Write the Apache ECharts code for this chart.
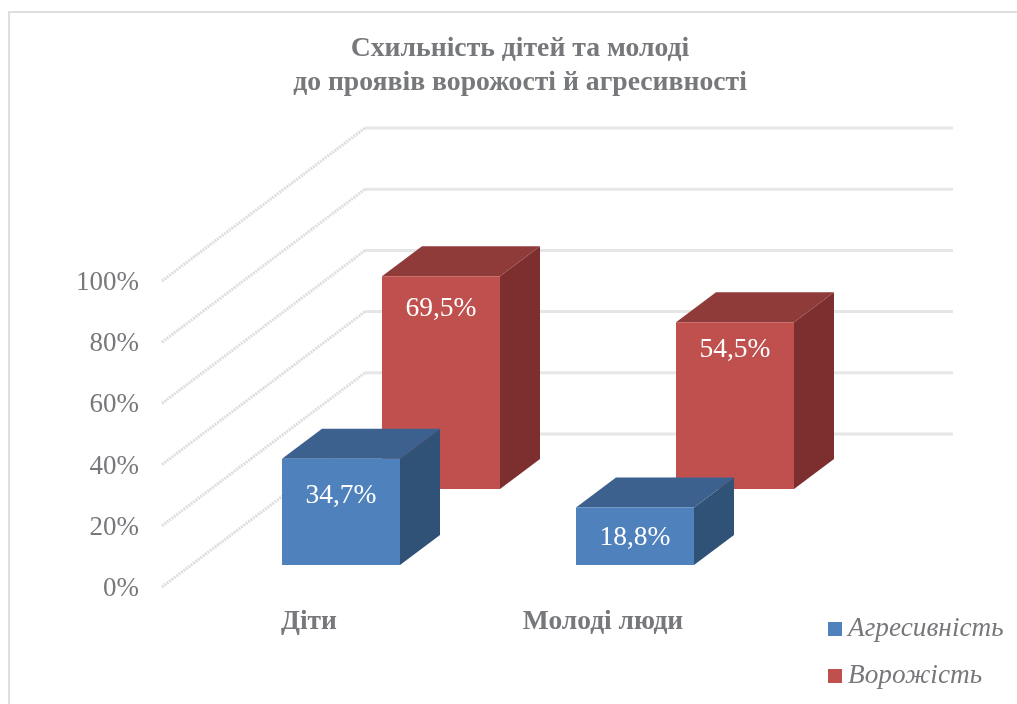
<!DOCTYPE html>
<html>
<head>
<meta charset="utf-8">
<style>
    html, body { margin: 0; padding: 0; background: #fff; }
    #chart { width: 1017px; height: 704px; }
</style>
<script src="https://cdn.jsdelivr.net/npm/echarts@6/dist/echarts.min.js"></script>
</head>
<body>
<div id="chart"></div>
<script>
var categories = ['Діти', 'Молоді люди'];
var aggression = [34.7, 18.8];
var hostility = [69.5, 54.5];
var yTicks = [0, 20, 40, 60, 80, 100];

var FONT = '"Liberation Serif", "Times New Roman", serif';
var TEXT_COLOR = '#77787b';
// oblique projection of the 3d box
var WALL_DX = 203;
var WALL_DY = 153;
var BAR_W = 118;
var BAR_DX = 40;
var BAR_DY = 30;

function bar3d (shift, drop, labelDrop, colors) {
    return function (params, api) {
        var cat = api.value(0);
        var base = api.coord([cat, 0]);
        var top = api.coord([cat, api.value(1)]);
        var left = base[0] + shift - BAR_W / 2;
        var right = left + BAR_W;
        var y0 = base[1] - drop;
        var y1 = top[1] - drop;
        return {
            type: 'group',
            children: [
                {
                    type: 'polygon',
                    shape: {points: [[right, y1], [right + BAR_DX, y1 - BAR_DY], [right + BAR_DX, y0 - BAR_DY], [right, y0]]},
                    style: {fill: colors.side}
                },
                {
                    type: 'polygon',
                    shape: {points: [[left, y1], [left + BAR_DX, y1 - BAR_DY], [right + BAR_DX, y1 - BAR_DY], [right, y1]]},
                    style: {fill: colors.top}
                },
                {
                    type: 'rect',
                    shape: {x: left, y: y1, width: BAR_W, height: y0 - y1},
                    style: {fill: colors.front}
                },
                {
                    type: 'text',
                    style: {
                        x: left + BAR_W / 2,
                        y: y1 + labelDrop[cat],
                        text: api.value(1).toFixed(1).replace('.', ',') + '%',
                        align: 'center',
                        verticalAlign: 'middle',
                        fill: '#fff',
                        font: '27.5px ' + FONT
                    }
                }
            ]
        };
    };
}

function wallLine (params, api) {
    var x = params.coordSys.x;
    var w = params.coordSys.width;
    var y = api.coord([0, api.value(0)])[1];
    return {
        type: 'group',
        children: [
            {
                type: 'line',
                shape: {x1: x, y1: y, x2: x + WALL_DX, y2: y - WALL_DY},
                style: {stroke: '#dedede', lineWidth: 3, lineDash: [2, 1]}
            },
            {
                type: 'line',
                shape: {x1: x + WALL_DX, y1: y - WALL_DY, x2: x + WALL_DX + w, y2: y - WALL_DY},
                style: {stroke: '#e6e6e6', lineWidth: 3}
            }
        ]
    };
}

function toRows (values) {
    return values.map(function (v, i) {
        return [i, v];
    });
}

var myChart = echarts.init(document.getElementById('chart'));
myChart.setOption({
    animation: false,
    backgroundColor: '#fff',
    title: {
        text: 'Схильність дітей та молоді\nдо проявів ворожості й агресивності',
        left: 515,
        top: 27,
        textAlign: 'center',
        textStyle: {
            color: TEXT_COLOR,
            fontFamily: FONT,
            fontSize: 27.7,
            fontWeight: 'bold',
            lineHeight: 34
        }
    },
    graphic: [
        {
            type: 'polyline',
            shape: {points: [[9, 720], [9, 12], [1030, 12]]},
            style: {stroke: '#dedede', lineWidth: 2, fill: null}
        }
    ],
    legend: {
        left: 828,
        top: 613,
        padding: 0,
        orient: 'vertical',
        icon: 'rect',
        itemWidth: 14,
        itemHeight: 14,
        itemGap: 15,
        data: ['Агресивність', 'Ворожість'],
        textStyle: {
            color: TEXT_COLOR,
            fontFamily: FONT,
            fontSize: 27.3,
            fontStyle: 'italic',
            lineHeight: 32,
            padding: [0, 0, 0, 1]
        }
    },
    grid: {
        left: 162,
        top: 281,
        width: 588,
        height: 306
    },
    xAxis: {
        type: 'category',
        data: categories,
        axisLine: {show: false},
        axisTick: {show: false},
        axisLabel: {
            margin: 21,
            color: TEXT_COLOR,
            fontFamily: FONT,
            fontSize: 27.5,
            fontWeight: 'bold'
        }
    },
    yAxis: {
        type: 'value',
        min: 0,
        max: 100,
        interval: 20,
        splitLine: {show: false},
        axisLine: {show: false},
        axisTick: {show: false},
        axisLabel: {
            margin: 23,
            formatter: '{t|{value}%}',
            rich: {
                t: {
                    color: TEXT_COLOR,
                    fontFamily: FONT,
                    fontSize: 27,
                    padding: [4, 0, 0, 0]
                }
            }
        }
    },
    series: [
        {
            type: 'custom',
            z: 1,
            silent: true,
            renderItem: wallLine,
            encode: {y: 0},
            data: yTicks.map(function (v) { return [v]; }),
            clip: false
        },
        {
            type: 'custom',
            name: 'Ворожість',
            z: 2,
            itemStyle: {color: '#c0504d'},
            renderItem: bar3d(132, 98, [32, 28], {front: '#c0504d', top: '#8f3b3a', side: '#7c2f2e'}),
            encode: {x: 0, y: 1},
            data: toRows(hostility),
            clip: false
        },
        {
            type: 'custom',
            name: 'Агресивність',
            z: 3,
            itemStyle: {color: '#4f81bd'},
            renderItem: bar3d(32, 22, [37, 30], {front: '#4f81bd', top: '#3c618f', side: '#305277'}),
            encode: {x: 0, y: 1},
            data: toRows(aggression),
            clip: false
        }
    ]
});
</script>
</body>
</html>
